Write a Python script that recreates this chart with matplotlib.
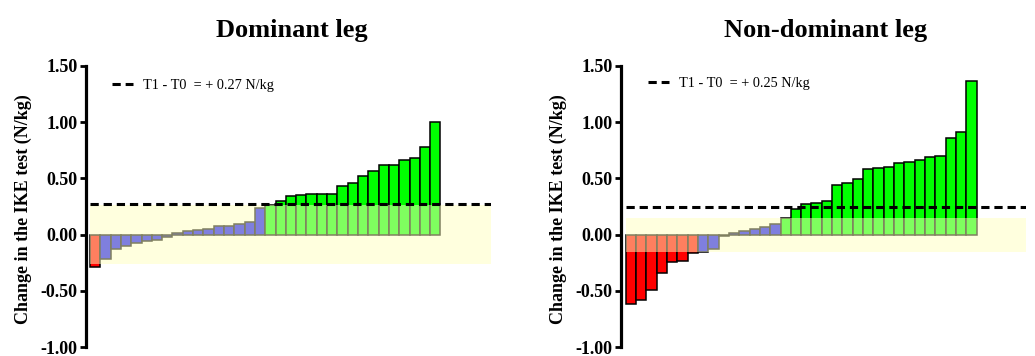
import matplotlib
matplotlib.use("Agg")
import matplotlib.pyplot as plt
from matplotlib.lines import Line2D

# ---- data ----
dom_values = [-0.29, -0.217, -0.128, -0.099, -0.072, -0.057, -0.045, -0.021,
              0.014, 0.032, 0.044, 0.05, 0.077, 0.079, 0.09, 0.112, 0.24,
              0.265, 0.30, 0.34, 0.35, 0.36, 0.36, 0.36, 0.43, 0.46, 0.52,
              0.57, 0.62, 0.62, 0.665, 0.68, 0.78, 1.00]
dom_groups = ["R"] + ["B"] * 16 + ["G"] * 17
dom_band = 0.26
dom_mean = 0.27

nondom_values = [-0.615, -0.582, -0.493, -0.343, -0.242, -0.236, -0.167,
                 -0.158, -0.131, -0.015, 0.012, 0.036, 0.051, 0.066, 0.09,
                 0.145, 0.23, 0.27, 0.28, 0.30, 0.44, 0.46, 0.495, 0.58, 0.59,
                 0.60, 0.64, 0.645, 0.66, 0.69, 0.70, 0.857, 0.91, 1.37]
nondom_groups = ["R"] * 7 + ["B"] * 8 + ["G"] * 19
nondom_band = 0.152
nondom_mean = 0.25

titles = ["Dominant leg", "Non-dominant leg"]
legend_labels = ["T1 - T0  = + 0.27 N/kg", "T1 - T0  = + 0.25 N/kg"]
yticks = [-1.00, -0.50, 0.00, 0.50, 1.00, 1.50]
ylabel = "Change in the IKE test (N/kg)"

# ---- style ----
group_colors = {"R": (1.0, 0.0, 0.0), "B": (0.0, 0.0, 1.0), "G": (0.0, 1.0, 0.0)}
band_color = (1.0, 1.0, 0.75)
serif = ["Liberation Serif", "DejaVu Serif"]

W, H = 1035, 356
fig = plt.figure(figsize=(W / 100, H / 100), dpi=100)

panels = [
    dict(values=dom_values, groups=dom_groups, band=dom_band, mean=dom_mean,
         left=86, xlim=(-0.89, 38.4), leg=(0.064, 0.929), lab_x=-0.133),
    dict(values=nondom_values, groups=nondom_groups, band=nondom_band, mean=nondom_mean,
         left=620.7, xlim=(-0.98, 38.25), leg=(0.067, 0.936), lab_x=-0.133),
]

ax_top, ax_bot, ax_w = 66, 347, 405
for k, p in enumerate(panels):
    ax = fig.add_axes([p["left"] / W, 1 - ax_bot / H, ax_w / W, (ax_bot - ax_top) / H])
    vals = p["values"]
    xs = list(range(len(vals)))
    cols = [group_colors[g] for g in p["groups"]]
    ax.bar(xs, vals, width=1.0, color=cols, edgecolor="black", linewidth=1.1, zorder=2)
    x0, x1 = -0.5, p["xlim"][1]
    ax.fill_between([x0, x1], [-p["band"]] * 2, [p["band"]] * 2,
                    color=band_color, alpha=0.5, linewidth=0, zorder=3)
    ax.hlines(p["mean"], x0, x1, colors="black", linewidth=2.2,
              linestyles=(0, (2.7, 1.6)), zorder=4)
    ax.set_xlim(*p["xlim"])
    ax.set_ylim(-1.0, 1.5)
    ax.set_yticks(yticks)
    ax.set_yticklabels([f"{t:.2f}" for t in yticks], fontfamily=serif,
                       fontweight="bold", fontsize=13)
    ax.set_xticks([])
    for s in ["top", "right", "bottom"]:
        ax.spines[s].set_visible(False)
    ax.spines["left"].set_linewidth(2.3)
    ax.tick_params(axis="y", direction="out", length=4.5, width=2.0, pad=1.5)
    ax.patch.set_alpha(0)
    ax.set_ylabel(ylabel, fontfamily=serif, fontweight="bold", fontsize=13)
    ax.yaxis.set_label_coords(p["lab_x"], 0.49)
    ax.text(0.507, 1.103, titles[k], transform=ax.transAxes, ha="center",
            va="baseline", fontfamily=serif, fontweight="bold", fontsize=19)
    handle = Line2D([], [], color="black", linewidth=2.2, linestyle=(0, (2.7, 1.6)))
    ax.legend([handle], [legend_labels[k]], loc="center left",
              bbox_to_anchor=p["leg"], frameon=False, borderpad=0,
              borderaxespad=0, handlelength=1.45, handletextpad=0.7,
              prop={"family": serif, "size": 10.3})

fig.savefig("out.png", dpi=100)
